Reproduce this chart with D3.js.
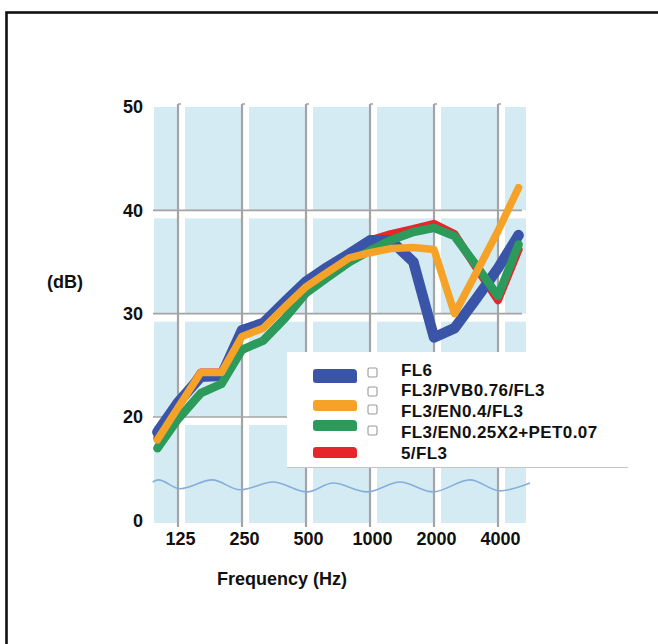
<!DOCTYPE html>
<html>
<head>
<meta charset="utf-8">
<script src="https://cdn.jsdelivr.net/npm/d3@7"></script>
<style>
  html, body { margin: 0; padding: 0; background: #fff; }
  svg { display: block; }
  text { font-family: "Liberation Sans", Arial, sans-serif; font-weight: bold; fill: #111; }
</style>
</head>
<body>
<svg id="chart" width="658" height="644"></svg>
<script>
// ---------- data ----------
const freqs = [100, 125, 160, 200, 250, 315, 400, 500, 630, 800, 1000, 1250, 1600, 2000, 2500, 3150, 4000, 5000];
const seriesFL6      = [17.1, 21.4, 23.9, 24.0, 28.4, 29.1, 31.2, 33.1, 34.5, 35.8, 37.1, 37.1, 35.0, 27.7, 28.6, 31.4, 34.4, 37.6];
const seriesOrange   = [15.6, 20.9, 24.3, 24.3, 27.8, 28.6, 30.7, 32.6, 34.0, 35.4, 35.9, 36.3, 36.4, 36.2, 30.0, 33.9, 38.0, 42.2];
const seriesGreen    = [14.0, 19.6, 22.3, 23.2, 26.5, 27.4, 29.6, 32.0, 33.5, 35.0, 36.1, 37.1, 37.9, 38.3, 37.5, 34.7, 31.7, 36.7];
const seriesRed      = [16.0, 21.0, 24.3, 24.3, 28.0, 28.8, 31.0, 33.0, 34.4, 35.7, 37.1, 37.7, 38.2, 38.7, 37.7, 34.5, 31.3, 36.2];
const waveFreqs  = [95, 101, 128, 181, 245, 350, 506, 670, 968, 1384, 1979, 2954, 4088, 5657];
const waveLevels = [7.5, 7.9, 6.2, 7.9, 6.0, 7.5, 5.6, 7.3, 5.6, 7.5, 5.6, 7.9, 5.8, 7.3];
const xTicks = [125, 250, 500, 1000, 2000, 4000];
const yTicks = [0, 20, 30, 40, 50];
const legendLabels = ["FL6", "FL3/PVB0.76/FL3", "FL3/EN0.4/FL3", "FL3/EN0.25X2+PET0.07", "5/FL3"];
const legendSwatchColors = ["#3a55a8", "#f5a229", "#2b9a5a", "#e5262b"];

// ---------- layout ----------
const svg = d3.select("#chart");
const plotLeft = 154, plotRight = 526, plotTop = 107, plotBottom = 523;
const x = d3.scaleLog().domain([125, 4000]).range([178, 498]);
const y = d3.scaleLinear().domain([0, 20, 50]).range([521, 417, 107]);

// frame
svg.append("rect").attr("x", 6.5).attr("y", 12.5).attr("width", 720).attr("height", 720)
  .attr("fill", "none").attr("stroke", "#111").attr("stroke-width", 2.6);

// plot background
svg.append("rect").attr("x", plotLeft).attr("y", plotTop)
  .attr("width", plotRight - plotLeft).attr("height", plotBottom - plotTop).attr("fill", "#d4ebf4");

const hGrid = [20, 30, 40];
// white bands
svg.selectAll(".vband").data(xTicks).join("rect")
  .attr("x", d => x(d)).attr("y", plotTop).attr("width", 7).attr("height", plotBottom - plotTop).attr("fill", "#fff");
svg.selectAll(".hband").data(hGrid).join("rect")
  .attr("x", plotLeft).attr("y", d => y(d)).attr("width", plotRight - plotLeft).attr("height", 8).attr("fill", "#fff");
// gray lines
svg.selectAll(".vline").data(xTicks).join("line")
  .attr("x1", d => x(d)).attr("x2", d => x(d)).attr("y1", plotTop - 3).attr("y2", plotBottom + 4)
  .attr("stroke", "#a4a4a4").attr("stroke-width", 2.2);
svg.selectAll(".vhook").data(xTicks).join("line")
  .attr("x1", d => x(d)).attr("x2", d => x(d) + 3).attr("y1", plotTop - 3).attr("y2", plotTop - 3)
  .attr("stroke", "#a4a4a4").attr("stroke-width", 1.5);
svg.selectAll(".hline").data(hGrid).join("line")
  .attr("x1", plotLeft - 1).attr("x2", plotRight - 4).attr("y1", d => y(d)).attr("y2", d => y(d))
  .attr("stroke", "#a4a4a4").attr("stroke-width", 1.6);

// wave (decorative floor line)
const waveLine = d3.line().x((d, i) => x(waveFreqs[i])).y(d => y(d)).curve(d3.curveMonotoneX);
svg.append("path").attr("d", waveLine(waveLevels)).attr("fill", "none")
  .attr("stroke", "#86aedb").attr("stroke-width", 1.6);

// series
const line = d3.line().x((d, i) => x(freqs[i])).y(d => y(d));
const series = [
  { data: seriesRed, color: "#e5262b", w: 8 },
  { data: seriesFL6, color: "#3a55a8", w: 10.5 },
  { data: seriesGreen, color: "#2b9a5a", w: 8.5 },
  { data: seriesOrange, color: "#f5a229", w: 7.5 }
];
svg.selectAll(".series").data(series).join("path")
  .attr("d", d => line(d.data)).attr("fill", "none")
  .attr("stroke", d => d.color).attr("stroke-width", d => d.w)
  .attr("stroke-linejoin", "round").attr("stroke-linecap", "round");

// axes
const yAxis = svg.append("g").attr("transform", "translate(146,0)")
  .call(d3.axisLeft(y).tickValues(yTicks).tickSize(0).tickPadding(3).tickFormat(d3.format("d")));
yAxis.select(".domain").remove();
yAxis.selectAll("text").style("font-size", "18px").style("font-family", "'Liberation Sans', Arial, sans-serif")
  .style("font-weight", "bold").attr("fill", "#111");

const xAxis = svg.append("g").attr("transform", "translate(2,527)")
  .call(d3.axisBottom(x).tickValues(xTicks).tickSize(0).tickPadding(5).tickFormat(d3.format("d")));
xAxis.select(".domain").remove();
xAxis.selectAll("text").style("font-size", "18px").style("font-family", "'Liberation Sans', Arial, sans-serif")
  .style("font-weight", "bold").attr("fill", "#111");

svg.append("text").attr("x", 65).attr("y", 288).attr("text-anchor", "middle").style("font-size", "18px").text("(dB)");
svg.append("text").attr("x", 282).attr("y", 585).attr("text-anchor", "middle").style("font-size", "18px").text("Frequency (Hz)");

// legend
const lg = svg.append("g");
lg.append("rect").attr("x", 287).attr("y", 352).attr("width", 340).attr("height", 115).attr("fill", "#fff");
lg.append("line").attr("x1", 287).attr("x2", 628).attr("y1", 467.5).attr("y2", 467.5).attr("stroke", "#c4c4c4").attr("stroke-width", 1.2);
const swatchY = [369, 400, 420, 447];
const swatchH = [14, 11, 11, 11];
lg.selectAll(".sw").data(legendSwatchColors).join("path")
  .attr("d", (c, i) => {
    const x0 = 313, x1 = 357, y0 = swatchY[i], h = swatchH[i];
    return `M${x0 + 3},${y0} L${x1 - 4},${y0} Q${x1},${y0} ${x1},${y0 + 4} L${x1},${y0 + h - 2} Q${x1},${y0 + h} ${x1 - 3},${y0 + h} L${x0 + 3},${y0 + h} Q${x0},${y0 + h} ${x0},${y0 + h - 3} L${x0},${y0 + 3} Q${x0},${y0} ${x0 + 3},${y0} Z`;
  })
  .attr("fill", c => c);
const boxY = [368, 387, 405, 426];
lg.selectAll(".cb").data(boxY).join("rect")
  .attr("x", 368).attr("y", d => d).attr("width", 9).attr("height", 9).attr("rx", 1.5)
  .attr("fill", "#fff").attr("stroke", "#9a9a9a").attr("stroke-width", 1.1);
const labelY = [376, 396, 417, 438, 459];
lg.selectAll(".lt").data(legendLabels).join("text")
  .attr("x", 401).attr("y", (d, i) => labelY[i])
  .style("font-size", "17px").style("letter-spacing", "0.4px").text(d => d);
</script>
</body>
</html>
